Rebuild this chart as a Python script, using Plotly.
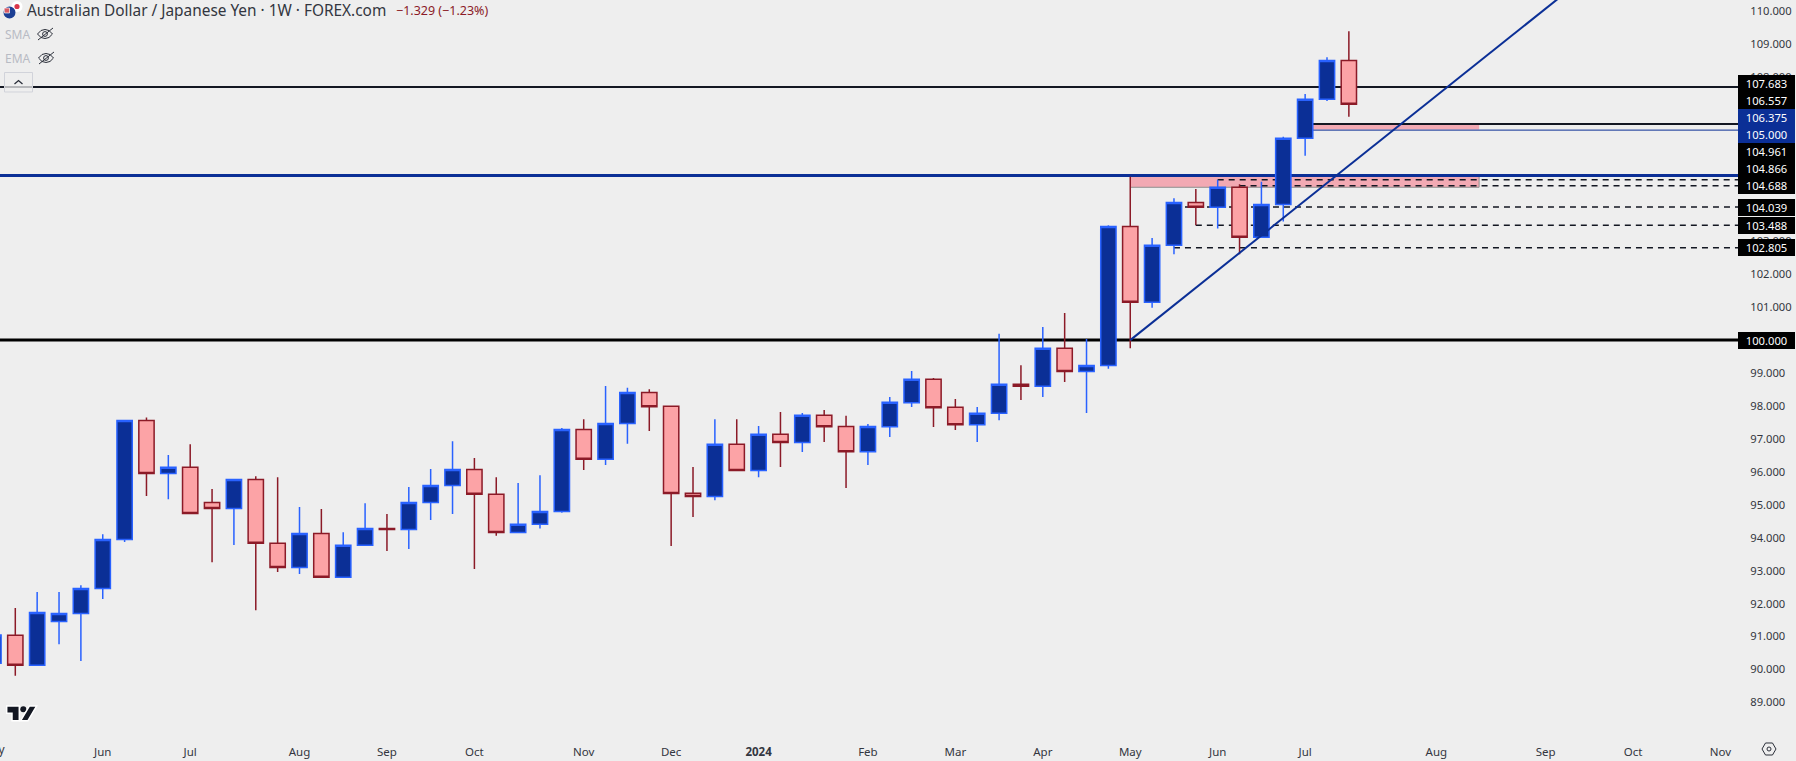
import plotly.graph_objects as go

weeks = ["2023-05-01","2023-05-08","2023-05-15","2023-05-22","2023-05-29","2023-06-05","2023-06-12","2023-06-19","2023-06-26",
"2023-07-03","2023-07-10","2023-07-17","2023-07-24","2023-07-31","2023-08-07","2023-08-14","2023-08-21","2023-08-28",
"2023-09-04","2023-09-11","2023-09-18","2023-09-25","2023-10-02","2023-10-09","2023-10-16","2023-10-23","2023-10-30",
"2023-11-06","2023-11-13","2023-11-20","2023-11-27","2023-12-04","2023-12-11","2023-12-18","2023-12-25","2024-01-01",
"2024-01-08","2024-01-15","2024-01-22","2024-01-29","2024-02-05","2024-02-12","2024-02-19","2024-02-26","2024-03-04",
"2024-03-11","2024-03-18","2024-03-25","2024-04-01","2024-04-08","2024-04-15","2024-04-22","2024-04-29","2024-05-06",
"2024-05-13","2024-05-20","2024-05-27","2024-06-03","2024-06-10","2024-06-17","2024-06-24","2024-07-01","2024-07-08"]

opens = [90.19,91.04,90.13,91.46,91.70,92.46,93.95,97.56,95.95,96.14,95.07,94.89,95.77,93.83,93.10,94.13,92.80,93.77,94.28,94.25,95.07,95.59,96.07,95.32,94.16,94.41,94.80,97.29,96.38,97.47,98.41,97.99,95.35,95.25,96.84,96.04,97.14,96.89,97.72,97.38,96.61,97.37,98.10,98.81,97.96,97.43,97.78,98.66,98.60,99.75,99.05,99.23,103.45,101.15,102.88,104.18,104.03,104.64,103.12,104.12,106.13,107.31,108.49]
highs = [91.20,91.87,92.35,92.35,92.56,94.11,97.56,97.65,96.51,96.84,95.48,95.77,95.87,95.84,94.93,94.87,94.17,95.05,94.72,95.54,96.09,96.93,96.42,95.84,95.66,95.90,97.33,97.60,98.61,98.55,98.51,97.99,96.15,97.60,97.60,97.39,97.82,97.79,97.88,97.70,97.45,98.27,99.06,98.85,98.21,97.97,100.19,99.24,100.40,100.82,100.03,103.49,104.96,103.10,104.31,104.59,104.87,104.73,104.81,106.17,107.47,108.59,109.38]
lows = [90.10,89.81,90.13,90.77,90.26,92.14,93.87,95.27,95.17,94.74,93.26,93.78,91.80,92.96,92.90,92.80,92.80,93.77,93.60,93.66,94.54,94.72,93.05,94.06,94.16,94.28,94.76,96.06,96.21,96.85,97.24,93.75,94.63,95.14,96.04,95.84,96.15,96.60,96.91,95.51,96.21,97.06,97.97,97.36,97.27,96.91,97.57,98.18,98.27,98.73,97.79,99.13,99.75,100.98,102.61,103.49,103.39,102.61,103.12,103.60,105.60,107.26,106.78]
closes = [91.05,90.13,91.73,91.70,92.46,93.95,97.56,95.95,96.14,94.74,94.89,95.77,93.83,93.10,94.13,92.80,93.77,94.28,94.25,95.07,95.59,96.07,95.32,94.16,94.41,94.80,97.29,96.38,97.47,98.41,97.98,95.34,95.25,96.84,96.04,97.14,96.89,97.72,97.37,96.61,97.38,98.11,98.81,97.95,97.43,97.78,98.66,98.60,99.75,99.05,99.23,103.45,101.15,102.88,104.18,104.03,104.64,103.12,104.12,106.13,107.31,108.49,107.16]

price_ticks = [110,109,108,107,106,105,104,103,102,101,100,99,98,97,96,95,94,93,92,91,90,89]
month_dates = ["2023-06-05","2023-07-03","2023-08-07","2023-09-04","2023-10-02","2023-11-06","2023-12-04","2024-01-01","2024-02-05","2024-03-04","2024-04-01","2024-04-29","2024-05-27","2024-06-24","2024-08-05","2024-09-09","2024-10-07","2024-11-04"]
month_labels = ["Jun","Jul","Aug","Sep","Oct","Nov","Dec","<b>2024</b>","Feb","Mar","Apr","May","Jun","Jul","Aug","Sep","Oct","Nov"]

tag_values = [107.683,106.557,106.375,105.000,104.961,104.866,104.688,104.039,103.488,102.805,100.000]
tag_blue = [False,False,True,True,False,False,False,False,False,False,False]
tag_lift = [3.3,23.6,12.4,40.9,25,11.1,0.2,-0.4,-0.3,0.2,0]

W, H = 1796, 761
PW, PH = 1738, 735
BG = "#EEEEEE"
NAVY = "#0B2F96"
BLUE_EDGE = "#2962FF"
RED_EDGE = "#8B1A27"
RED_FILL = "#FCA3A6"
INK = "#131722"
X_RANGE = ["2023-05-03 02:24", "2024-11-09 14:24"]
Y_RANGE = [88.012, 110.325]
ZONE_END = "2024-08-18 17:00"

def px(x): return x / PW
def py(y): return 1 - y / PH

def path(points, close=True):
    s = "M " + " L ".join(f"{px(a):.6f},{py(b):.6f}" for a, b in points)
    return s + (" Z" if close else "")

def circle(cx, cy, r, fill, line="rgba(0,0,0,0)", w=0):
    return dict(type="circle", xref="paper", yref="paper", x0=px(cx-r), x1=px(cx+r), y0=py(cy+r), y1=py(cy-r),
                fillcolor=fill, line=dict(color=line, width=w), layer="above")

def poly(points, fill="rgba(0,0,0,0)", line="rgba(0,0,0,0)", w=0, close=True):
    return dict(type="path", xref="paper", yref="paper", path=path(points, close), fillcolor=fill,
                line=dict(color=line, width=w), layer="above")

def hline(start, value, color, width, dash="solid", layer="below"):
    return dict(type="line", xref="x", yref="y", x0=start, x1=X_RANGE[1], y0=value, y1=value,
                line=dict(color=color, width=width, dash=dash), layer=layer)

DASH = "6px,5px"
shapes = [
    dict(type="rect", xref="x", yref="y", x0=weeks[52], x1=ZONE_END, y0=104.64, y1=104.961,
         fillcolor="#F2A9B3", line=dict(width=0), layer="below"),
    dict(type="line", xref="x", yref="y", x0=weeks[52], x1=ZONE_END, y0=104.64, y1=104.64,
         line=dict(color="#8E8E8E", width=1), layer="below"),
    dict(type="line", xref="x", yref="y", x0=ZONE_END, x1=ZONE_END, y0=104.64, y1=104.961,
         line=dict(color="#8E8E8E", width=1), layer="below"),
    dict(type="rect", xref="x", yref="y", x0=weeks[60], x1=ZONE_END, y0=106.39, y1=106.54,
         fillcolor="#F2A9B3", line=dict(width=0), layer="below"),
    hline(X_RANGE[0], 107.683, INK, 2),
    hline(weeks[60], 106.557, INK, 2),
    hline(weeks[60], 106.375, NAVY, 1),
    hline(X_RANGE[0], 105.0, NAVY, 3),
    hline(X_RANGE[0], 100.0, "#000000", 3),
    hline(weeks[56], 104.866, INK, 1.5, DASH),
    hline(weeks[57], 104.688, INK, 1.5, DASH),
    hline(weeks[54], 104.039, INK, 1.5, DASH),
    hline(weeks[55], 103.488, INK, 1.5, DASH),
    hline(weeks[54], 102.805, INK, 1.5, DASH),
    dict(type="line", xref="x", yref="y", x0=weeks[52], y0=100.0, x1="2024-09-16 12:00", y1=110.63,
         line=dict(color=NAVY, width=2), layer="above"),
    circle(17, 6.5, 5.5, "#FFFFFF"),
    circle(17, 6.5, 2.6, "#D9364A"),
    circle(9.5, 12.5, 6, "#1C3F94"),
    dict(type="path", xref="paper", yref="paper", path=path([(4,8),(9.5,8),(9.5,13),(4.5,13)]),
         fillcolor="#D85A63", line=dict(color="#FFFFFF", width=0.7), layer="above"),
    dict(type="rect", xref="paper", yref="paper", x0=px(4.5), x1=px(32.5), y0=py(92), y1=py(72.5),
         fillcolor="rgba(238,238,238,0.75)", line=dict(color="#D1D3DA", width=1), layer="above"),
    poly([(14.5,84),(18.5,80.5),(22.5,84)], line="#2A2E39", w=1.3, close=False),
    poly([(37.5,34),(41,30.5),(45,29.5),(49,30.5),(52.5,34),(49,37.5),(45,38.5),(41,37.5)], line="#2A2E39", w=1),
    poly([(38,40),(53,28)], line="#2A2E39", w=1, close=False),
    circle(45, 34, 2.4, "rgba(0,0,0,0)", "#2A2E39", 1),
    poly([(38.5,58),(42,54.5),(46,53.5),(50,54.5),(53.5,58),(50,61.5),(46,62.5),(42,61.5)], line="#2A2E39", w=1),
    poly([(39,64),(54,52)], line="#2A2E39", w=1, close=False),
    circle(46, 58, 2.4, "rgba(0,0,0,0)", "#2A2E39", 1),
    poly([(6.7,706),(19.3,706),(19.3,720.7),(12,720.7),(12,713.3),(6.7,713.3)], fill=INK, line="#FFFFFF", w=1.5),
    circle(23.3, 709.3, 3, INK),
    poly([(29.3,706),(36.7,706),(28,720.7),(20.7,720.7)], fill=INK, line="#FFFFFF", w=1.5),
    poly([(1762,749),(1765.5,743),(1772.5,743),(1776,749),(1772.5,755),(1765.5,755)], line="#2A2E39", w=1),
    circle(1769, 749, 2, "rgba(0,0,0,0)", "#2A2E39", 1),
]

LABEL_FONT = "Noto Sans"
annotations = [
    dict(xref="paper", yref="paper", x=px(25), y=py(10.5), xanchor="left", yanchor="middle", showarrow=False,
         text="Australian Dollar / Japanese Yen · 1W · FOREX.com", font=dict(family=LABEL_FONT, size=15.4, color="#333640")),
    dict(xref="paper", yref="paper", x=px(394), y=py(10.5), xanchor="left", yanchor="middle", showarrow=False,
         text="−1.329 (−1.23%)", font=dict(family=LABEL_FONT, size=12.5, color=RED_EDGE)),
    dict(xref="paper", yref="paper", x=px(3), y=py(34.5), xanchor="left", yanchor="middle", showarrow=False,
         text="SMA", font=dict(family=LABEL_FONT, size=12, color="#B8BBC4")),
    dict(xref="paper", yref="paper", x=px(3), y=py(58.5), xanchor="left", yanchor="middle", showarrow=False,
         text="EMA", font=dict(family=LABEL_FONT, size=12, color="#B8BBC4")),
    dict(xref="paper", yref="paper", x=px(-7), y=py(749), xanchor="center", yanchor="middle", showarrow=False,
         text="May", font=dict(family=LABEL_FONT, size=12, color="#333640")),
]
for value, blue, lift in zip(tag_values, tag_blue, tag_lift):
    annotations.append(dict(
        xref="paper", yref="y", x=1, y=value, xanchor="left", yanchor="middle", yshift=lift, showarrow=False,
        text=f"{value:.3f}", font=dict(family=LABEL_FONT, size=11.2, color="#FFFFFF"),
        bgcolor=NAVY if blue else "#000000", width=57, height=17, borderpad=0, borderwidth=0, align="center"))

fig = go.Figure(go.Candlestick(
    x=weeks, open=opens, high=highs, low=lows, close=closes,
    whiskerwidth=0,
    increasing=dict(line=dict(color=BLUE_EDGE, width=1.5), fillcolor=NAVY),
    decreasing=dict(line=dict(color=RED_EDGE, width=1.5), fillcolor=RED_FILL),
    showlegend=False, hoverinfo="skip",
))
fig.update_layout(
    width=W, height=H, autosize=False, paper_bgcolor=BG, plot_bgcolor=BG,
    margin=dict(l=0, r=W-PW, t=0, b=H-PH),
    boxgap=0.3, boxgroupgap=0, showlegend=False, shapes=shapes, annotations=annotations,
    xaxis=dict(type="date", range=X_RANGE, rangeslider=dict(visible=False), showgrid=False, zeroline=False,
               showline=False, tickmode="array", tickvals=month_dates, ticktext=month_labels,
               ticks="outside", ticklen=6, tickcolor=BG, tickangle=0,
               tickfont=dict(family=LABEL_FONT, size=11.5, color="#333640")),
    yaxis=dict(range=Y_RANGE, side="right", showgrid=False, zeroline=False, showline=False,
               tickmode="array", tickvals=price_ticks, ticktext=[f"{t:.3f}" for t in price_ticks],
               ticks="outside", ticklen=9, tickcolor=BG,
               tickfont=dict(family=LABEL_FONT, size=11.2, color="#333640")),
)
fig.write_html("out.html", config=dict(displayModeBar=False),
               post_script="document.body.style.margin='0';document.body.style.overflow='hidden';")
